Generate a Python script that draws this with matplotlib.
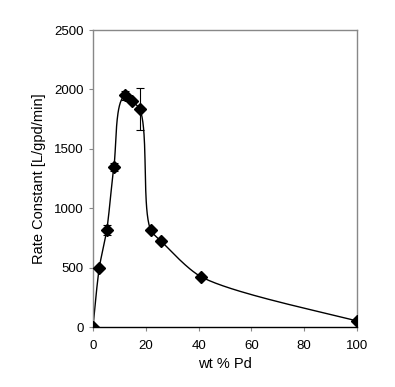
import numpy as np
import matplotlib
matplotlib.use("Agg")
import matplotlib.pyplot as plt

wt_pd = [0, 2.4, 5.2, 7.9, 12.3, 14.9, 17.7, 21.9, 25.7, 40.8, 100]
rate = [0, 500, 815, 1345, 1950, 1900, 1835, 815, 725, 425, 50]
err = [0, 0, 40, 35, 40, 15, 180, 0, 0, 0, 0]

x_ticks = [0, 20, 40, 60, 80, 100]
y_ticks = [0, 500, 1000, 1500, 2000, 2500]

def smooth_curve(xs, ys, sx=264 / 100, sy=297 / 2500, n=40):
    # Bezier smoothing in screen space
    P = np.column_stack([np.asarray(xs, float) * sx, np.asarray(ys, float) * sy])
    m = len(P)
    dirs = np.zeros_like(P)
    lens = np.zeros(m)
    for i in range(m):
        a = P[max(i - 1, 0)]
        b = P[min(i + 1, m - 1)]
        u = np.zeros(2)
        if i > 0:
            d = P[i] - a
            u += d / np.linalg.norm(d)
        if i < m - 1:
            d = b - P[i]
            u += d / np.linalg.norm(d)
        dirs[i] = u / np.linalg.norm(u)
        lens[i] = np.linalg.norm(b - a) / 6.0
    out = []
    for i in range(m - 1):
        p1, p2 = P[i], P[i + 1]
        seg = np.linalg.norm(p2 - p1)
        c1 = p1 + dirs[i] * min(lens[i], seg / 3.5)
        c2 = p2 - dirs[i + 1] * min(lens[i + 1], seg / 3.5)
        t = np.linspace(0, 1, n)[:, None]
        B = ((1 - t) ** 3) * p1 + 3 * ((1 - t) ** 2) * t * c1 + 3 * (1 - t) * t ** 2 * c2 + t ** 3 * p2
        out.append(B)
    S = np.vstack(out)
    return S[:, 0] / sx, S[:, 1] / sy

plt.rcParams['font.family'] = ['Liberation Sans', 'DejaVu Sans']
fig = plt.figure(figsize=(3.95, 3.87), dpi=100)
ax = fig.add_axes([0.2354, 0.155, 0.6684, 0.7674])

cx, cy = smooth_curve(wt_pd, rate)
ax.plot(cx, cy, color='black', lw=1.0, zorder=2)
ax.errorbar(wt_pd, rate, yerr=err, fmt='none', ecolor='black', elinewidth=0.8,
            capsize=3, capthick=0.8, zorder=3)
ax.plot(wt_pd, rate, linestyle='none', marker='D', markersize=6, color='black', zorder=4)

ax.set_xlim(0, 100)
ax.set_ylim(0, 2500)
ax.set_xticks(x_ticks)
ax.set_yticks(y_ticks)
ax.tick_params(axis='both', labelsize=9.5, colors='#888888', labelcolor='black',
               length=3, width=0.8, direction='out')
ax.tick_params(axis='x', pad=6)
for side in ['left', 'top', 'right']:
    ax.spines[side].set_color('#888888')
    ax.spines[side].set_linewidth(1.0)
ax.spines['bottom'].set_color('black')
ax.spines['bottom'].set_linewidth(1.0)

ax.set_xlabel('wt % Pd', fontsize=10.5, labelpad=4)
ax.set_ylabel('Rate Constant [L/gpd/min]', fontsize=10.5, labelpad=6)

fig.savefig('out.png', dpi=100)
